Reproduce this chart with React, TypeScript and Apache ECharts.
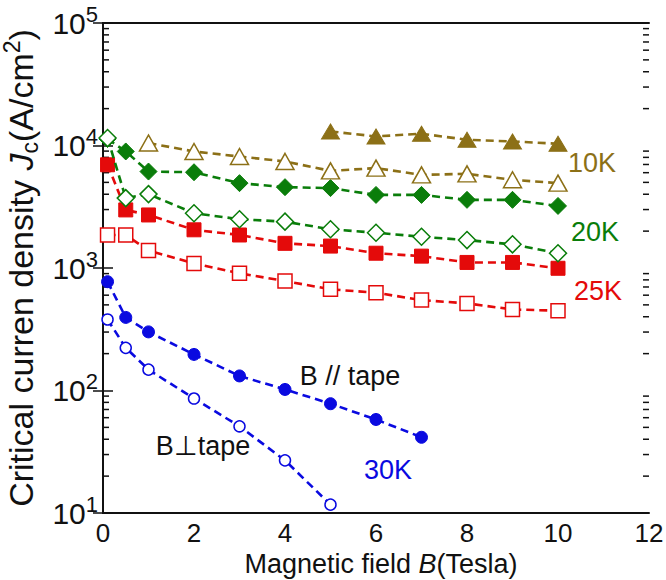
import React, { useEffect, useRef } from "react";
import * as echarts from "echarts";

// Magnetic field values (Tesla)
const fieldFull = [0.1, 0.5, 1, 2, 3, 4, 5, 6, 7, 8, 9, 10];
const field10KPar = [5, 6, 7, 8, 9, 10];
const field10KPerp = [1, 2, 3, 4, 5, 6, 7, 8, 9, 10];
const field30KPar = [0.1, 0.5, 1, 2, 3, 4, 5, 6, 7];
const field30KPerp = [0.1, 0.5, 1, 2, 3, 4, 5];

// Critical current density Jc (A/cm^2)
const jc10KPar = [13030, 11860, 12480, 11140, 10790, 10330];
const jc10KPerp = [10470, 8940, 8130, 7410, 6210, 6540, 5760, 5870, 5250, 4930];
const jc20KPar = [11300, 8940, 6130, 6050, 4930, 4570, 4490, 3950, 3950, 3600, 3600, 3210];
const jc20KPerp = [11510, 3720, 4010, 2800, 2500, 2390, 2070, 1940, 1800, 1690, 1560, 1320];
const jc25KPar = [6960, 2980, 2710, 2050, 1860, 1590, 1510, 1320, 1250, 1110, 1110, 995];
const jc25KPerp = [1860, 1860, 1390, 1090, 905, 783, 670, 628, 547, 514, 459, 448];
const jc30KPar = [773, 395, 301, 197, 131.5, 102, 78, 58, 41.5];
const jc30KPerp = [380, 223, 148, 86, 51, 26.9, 11.7];

const xTicks = [0, 2, 4, 6, 8, 10, 12];
const yDecades = [1, 2, 3, 4];

const BROWN = "#8C7017";
const GREEN = "#0A7D0A";
const RED = "#E40A0A";
const BLUE = "#0A0AE0";
const FONT = "'Liberation Sans', Arial, sans-serif";
const INK = "#111";

const zip = (xs: number[], ys: number[]) => xs.map((x, i) => [x, ys[i]]);

export default function App() {
  const ref = useRef<HTMLDivElement>(null);
  useEffect(() => {
    if (!ref.current) return;
    const chart = echarts.init(ref.current, null, { renderer: "svg" });

    const minorVals: number[][] = [];
    yDecades.forEach((d) => {
      for (let k = 2; k <= 9; k++) minorVals.push([0, k * Math.pow(10, d)]);
    });

    const dash = [8, 5];
    const line = (
      name: string,
      data: number[][],
      color: string,
      symbol: string,
      size: number | number[],
      filled: boolean
    ) => ({
      name,
      type: "line",
      data,
      symbol,
      symbolSize: size,
      showSymbol: true,
      lineStyle: { color, width: 2.6, type: dash },
      itemStyle: filled
        ? { color, borderColor: color, borderWidth: 1 }
        : { color: "#fff", borderColor: color, borderWidth: 1.5 },
      z: filled ? 3 : 4,
    });

    const txt = (text: string, x: number, y: number, fill: string) => ({
      type: "text",
      x,
      y,
      style: { text, fill, font: `27px ${FONT}`, textAlign: "center", textVerticalAlign: "middle" },
    });

    const option: any = {
      animation: false,
      backgroundColor: "#fff",
      grid: {
        left: 103,
        right: 17,
        top: 23,
        bottom: 67,
        containLabel: false,
        outerBoundsMode: "none",
      },
      xAxis: [
        {
          type: "value",
          min: 0,
          max: 12,
          interval: 2,
          axisLine: { show: true, lineStyle: { color: INK, width: 2 } },
          axisTick: { show: false },
          splitLine: { show: false },
          axisLabel: {
            color: INK,
            fontSize: 26,
            lineHeight: 28,
            fontFamily: FONT,
            margin: 6,
            formatter: (v: number) => (xTicks.includes(v) ? String(v) : ""),
          },
        },
        {
          type: "value",
          position: "top",
          min: 0,
          max: 12,
          interval: 2,
          axisLine: { show: true, lineStyle: { color: INK, width: 2 } },
          axisTick: { show: false },
          axisLabel: { show: false },
          splitLine: { show: false },
        },
      ],
      yAxis: [
        {
          type: "log",
          logBase: 10,
          min: 10,
          max: 100000,
          axisLine: { show: true, lineStyle: { color: INK, width: 2 } },
          axisTick: { show: true, inside: true, length: 10, lineStyle: { color: INK, width: 1.5 } },
          splitLine: { show: false },
          axisLabel: {
            color: INK,
            fontFamily: FONT,
            margin: 5,
            formatter: (v: number) => `{b|10}{s|${Math.round(Math.log10(v))}}`,
            rich: {
              b: { fontSize: 30, fontFamily: FONT, color: INK },
              s: { fontSize: 22, fontFamily: FONT, color: INK, padding: [0, 0, 18, 0] },
            },
          },
          name: "Critical curren density {i|J}{sub|c}(A/cm{sup|2})",
          nameLocation: "middle",
          nameGap: 59,
          nameTextStyle: {
            color: INK,
            fontSize: 34,
            fontFamily: FONT,
            rich: {
              i: { fontSize: 34, fontStyle: "italic", fontFamily: FONT, color: INK },
              sub: { fontSize: 23, fontFamily: FONT, color: INK, padding: [18, 0, 0, 0] },
              sup: { fontSize: 23, fontFamily: FONT, color: INK, padding: [0, 0, 18, 0] },
            },
          },
        },
        {
          type: "log",
          logBase: 10,
          min: 10,
          max: 100000,
          position: "right",
          axisLine: { show: true, lineStyle: { color: INK, width: 2 } },
          axisTick: { show: true, inside: true, length: 10, lineStyle: { color: INK, width: 1.5 } },
          axisLabel: { show: false },
          splitLine: { show: false },
        },
      ],
      series: [
        {
          type: "custom",
          silent: true,
          clip: false,
          z: 1,
          data: minorVals,
          renderItem: (params: any, api: any) => {
            const v = api.value(1);
            const pl = api.coord([0, v]);
            const pr = api.coord([12, v]);
            const st = { stroke: INK, lineWidth: 1.5 };
            return {
              type: "group",
              children: [
                { type: "line", shape: { x1: pl[0], y1: pl[1], x2: pl[0] + 6, y2: pl[1] }, style: st },
                { type: "line", shape: { x1: pr[0], y1: pr[1], x2: pr[0] - 6, y2: pr[1] }, style: st },
              ],
            };
          },
        },
        line("10K B//", zip(field10KPar, jc10KPar), BROWN, "triangle", [18, 15], true),
        line("10K B⊥", zip(field10KPerp, jc10KPerp), BROWN, "triangle", [18, 16], false),
        line("20K B//", zip(fieldFull, jc20KPar), GREEN, "diamond", [17, 17], true),
        line("25K B//", zip(fieldFull, jc25KPar), RED, "rect", [14, 14], true),
        line("30K B//", zip(field30KPar, jc30KPar), BLUE, "circle", 12, true),
        line("20K B⊥", zip(fieldFull, jc20KPerp), GREEN, "diamond", [17, 17], false),
        line("25K B⊥", zip(fieldFull, jc25KPerp), RED, "rect", [14, 14], false),
        line("30K B⊥", zip(field30KPerp, jc30KPerp), BLUE, "circle", 11, false),
      ],
      graphic: [
        txt("10K", 592, 163, BROWN),
        txt("20K", 595, 232, GREEN),
        txt("25K", 598, 291, RED),
        txt("B // tape", 350, 376, INK),
        txt("B⊥tape", 203, 446, INK),
        txt("30K", 388, 470, BLUE),
        {
          type: "text",
          x: 381,
          y: 564,
          style: {
            text: "Magnetic field {i|B}(Tesla)",
            fill: INK,
            font: `27px ${FONT}`,
            textAlign: "center",
            textVerticalAlign: "middle",
            rich: { i: { fontSize: 27, fontStyle: "italic", fontFamily: FONT, fill: INK } },
          },
        },
      ],
    };

    chart.setOption(option);
    return () => chart.dispose();
  }, []);

  return (
    <div
      ref={ref}
      style={{ position: "absolute", left: 0, top: 0, width: 666, height: 580 }}
    />
  );
}
